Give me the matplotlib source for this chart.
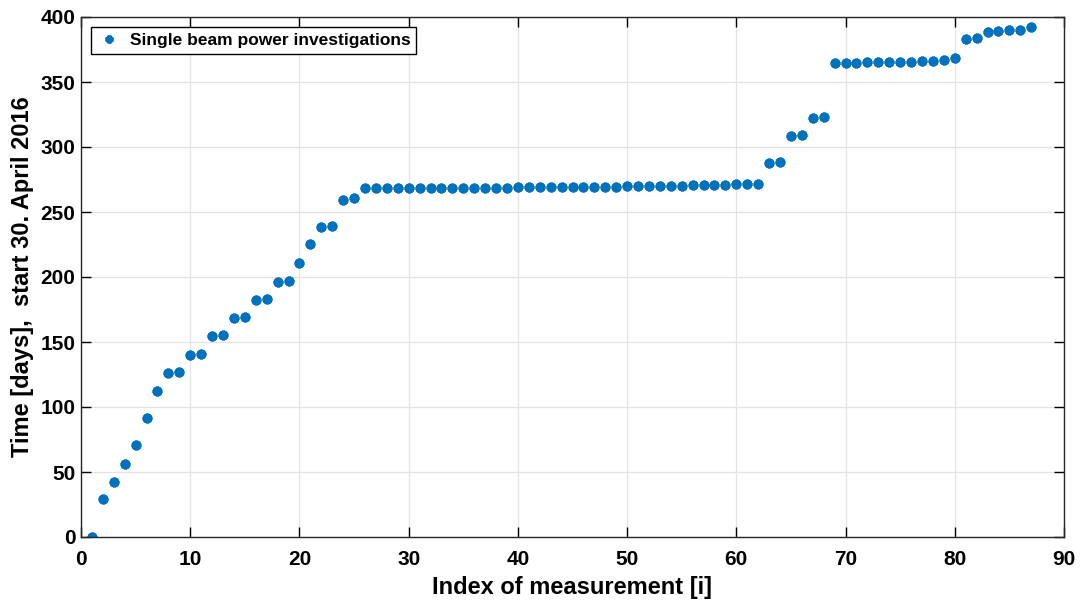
import numpy as np
import matplotlib
matplotlib.use('Agg')
import matplotlib.pyplot as plt

# measurement index and elapsed time (days since 30 April 2016)
index = list(range(1, 88))
days = [0.2, 29, 42.6, 56.3, 70.4, 91.5, 112, 126.2, 127, 140.3,
        141, 154.4, 155.2, 168.3, 169.3, 182.4, 183.4, 196.3, 197.3, 210.4,
        225.3, 238.4, 239.5, 259.2, 260.5, 268.2, 268.2, 268.3, 268.3, 268.4,
        268.4, 268.5, 268.5, 268.6, 268.6, 268.7, 268.7, 268.8, 268.8, 268.9,
        269, 269, 269.1, 269.2, 269.3, 269.3, 269.4, 269.5, 269.6, 269.7,
        269.8, 269.9, 270, 270.1, 270.3, 270.4, 270.6, 270.8, 271, 271.3,
        271.6, 271.8, 287.5, 288.5, 308.5, 309.3, 322.2, 323.2, 364.8, 364.9,
        365, 365.1, 365.3, 365.4, 365.5, 365.7, 365.9, 366.2, 366.8, 368.6,
        383.3, 383.5, 388.4, 389, 389.7, 390.2, 392.5]

plt.rcParams['font.family'] = ['Liberation Sans', 'DejaVu Sans']
plt.rcParams['font.weight'] = 'bold'

fig = plt.figure(figsize=(10.81, 6.04), dpi=100)
ax = fig.add_axes([81 / 1081, 1 - 537 / 604, (1064 - 81) / 1081, (537 - 17) / 604])

ax.plot(index, days, linestyle='none', marker=(8, 2, 0), markersize=7,
        markeredgewidth=2.4, color='#0072BD', label='Single beam power investigations')

ax.set_xlim(0, 90)
ax.set_ylim(0, 400)
ax.set_xticks(np.arange(0, 91, 10))
ax.set_yticks(np.arange(0, 401, 50))
ax.grid(True, color='#e3e3e3', linewidth=0.9)
ax.set_axisbelow(True)
ax.tick_params(direction='in', top=True, right=True, length=7, width=1,
               labelsize=15)
ax.tick_params(axis='x', pad=9.5)
ax.tick_params(axis='y', pad=4)
for lab in ax.get_xticklabels() + ax.get_yticklabels():
    lab.set_fontweight('bold')
for s in ax.spines.values():
    s.set_linewidth(1)
    s.set_color('#262626')

ax.set_xlabel('Index of measurement [i]', fontsize=17, fontweight='bold', labelpad=5)
ax.set_ylabel('Time [days],  start 30. April 2016', fontsize=17, fontweight='bold', labelpad=4.5)

leg = ax.legend(loc='upper left', fontsize=12.5, fancybox=False, framealpha=1,
                edgecolor='black', borderpad=0.35, handletextpad=0.5,
                handlelength=1.4, borderaxespad=0.55, markerscale=0.8)
leg.get_frame().set_linewidth(1)
for t in leg.get_texts():
    t.set_fontweight('bold')

fig.savefig('out.png', dpi=100)
